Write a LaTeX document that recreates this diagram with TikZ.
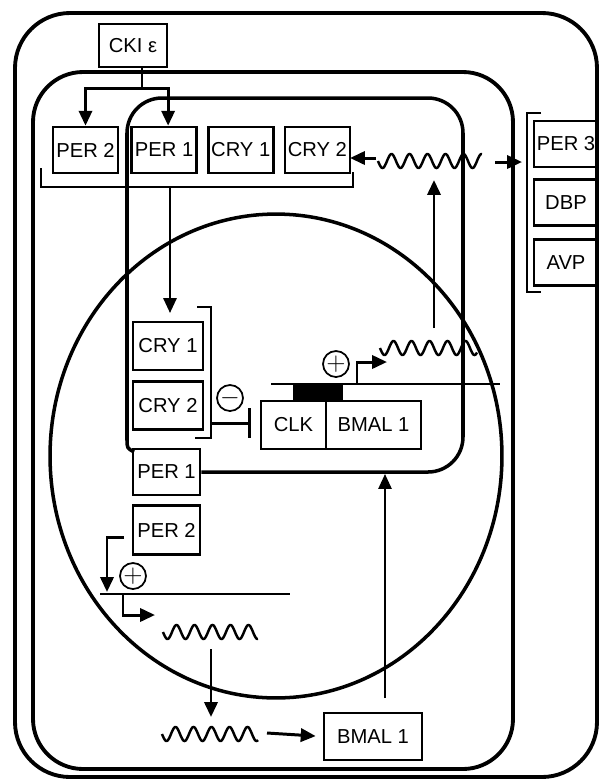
\documentclass[tikz,border=0pt]{standalone}
\usepackage{fontspec}
\setmainfont{Liberation Sans}
\usetikzlibrary{arrows.meta,positioning}

\begin{document}
\begin{tikzpicture}[
  x=0.02cm, y=-0.02cm,
  node distance=0.18cm,
  block/.style={draw, rectangle, line width=1.5pt, minimum width=1.3cm, minimum height=0.92cm, inner sep=0pt, align=center, font=\fontsize{11.5}{13}\selectfont},
  sign/.style={draw, circle, line width=1pt, minimum size=0.52cm, inner sep=0pt, font=\fontsize{14}{14}\selectfont},
  arrow/.style={-{Triangle[width=7.5pt,length=8.5pt]}, line width=1.7pt},
  blocked/.style={-{Bar[width=17pt]}, line width=1.7pt},
  wall/.style={line width=2.2pt, rounded corners=1.1cm},
  loopline/.style={line width=2pt, rounded corners=0.7cm},
  bracket/.style={line width=1.3pt},
  dna/.style={line width=1.1pt},
  pics/mrna/.style={code={\draw[line width=1.4pt] plot[domain=0:#1, samples=120, smooth] (\x,{7*sin(\x*20)});}}
]
\useasboundingbox (0,0) rectangle (600,779);
\draw[wall] (15,13) rectangle (597,777);
\draw[wall, rounded corners=1cm] (33,72) rectangle (513,769);
\draw[line width=2pt] (276,456) ellipse [x radius=4.52cm, y radius=4.84cm];

\node[block, minimum width=1.36cm, minimum height=0.86cm] (cki) at (133,45.5) {CKI ε};
\node[block] (per2) at (85.5,150) {PER 2};
\node[block, right=0.22cm of per2] (per1) {PER 1};
\node[block, right=of per1] (cry1) {CRY 1};
\node[block, right=of cry1] (cry2) {CRY 2};
\node[block, minimum width=1.28cm] (per3) at (566,144) {PER 3};
\node[block, minimum width=1.28cm, below=0.2cm of per3] (dbp) {DBP};
\node[block, minimum width=1.28cm, below=0.22cm of dbp] (avp) {AVP};
\node[block, minimum width=1.4cm, minimum height=0.96cm] (ncry1) at (168,346) {CRY 1};
\node[block, minimum width=1.4cm, minimum height=0.96cm, below=of ncry1] (ncry2) {CRY 2};
\node[block, minimum height=0.96cm] (clk) at (293.5,425) {CLK};
\node[block, minimum width=1.9cm, minimum height=0.96cm, right=-1.5pt of clk] (bmal) {BMAL 1};
\node[block, minimum width=1.34cm] (nper1) at (166.5,472) {PER 1};
\node[block, minimum width=1.34cm, minimum height=0.98cm, below=0.16cm of nper1] (nper2) {PER 2};
\node[block, minimum width=1.96cm, minimum height=0.94cm] (bmalc) at (373,736.5) {BMAL 1};
\node[sign] (inhib) at (230,398) {$-$};
\node[sign] (act) at (336,364) {$+$};
\node[sign] (act2) at (133,576) {$+$};

\coordinate (split) at (142,88);
\coordinate (rowbr) at (170,187);
\coordinate (nucin) at (170,313);
\coordinate (cryout) at (211,423);
\coordinate (tss) at (357,384);
\coordinate (tssend) at (387,362);
\coordinate (mrnaup) at (434,328);
\coordinate (mrnatop) at (434,180);
\coordinate (exportl) at (376,158);
\coordinate (cryin) at (350,158);
\coordinate (exportr) at (495,162);
\coordinate (outin) at (522,162);
\coordinate (p2out) at (124,537);
\coordinate (p2in) at (107,592);
\coordinate (tss2) at (123,594);
\coordinate (tss2end) at (155,615);
\coordinate (mrnadown) at (211,649);
\coordinate (mrnabot) at (211,717);
\coordinate (transl) at (267,733);
\coordinate (bmalup) at (385,698);
\coordinate (loopin) at (385,474);

\draw[arrow] (cki.south -| split) -- (split) -| (per2.north);
\draw[arrow] (split) -| ([xshift=0.08cm]per1.north);
\draw[bracket] (41,168) |- (353,187) -- (353,172);
\draw[arrow, line width=1.4pt] (rowbr) -- (nucin);
\draw[bracket] (197,307) -| (211,438) -- (195,438);
\draw[blocked] (cryout) -- ([xshift=-0.18cm]cryout -| clk.west);
\fill (293,385) rectangle (343,401);
\draw[dna] (271,384) -- (500,384);
\draw[arrow] (tss) |- (tssend);
\pic at (380,348) {mrna=97};
\draw[arrow] (mrnaup) -- (mrnatop);
\pic at (378,161) {mrna=104};
\draw[arrow] (exportl) -- (cryin);
\draw[arrow] (exportr) -- (outin);
\draw[bracket] (541,113) -| (527,292) -- (541,292);
\draw[loopline] (nper1.east) -- (463,472) -- (463,98) -- (127,98) -- (127,440);
\draw[line width=2pt] (127,439) .. controls (127,448) .. (134,452);

\draw[arrow] (p2out) -| (p2in);
\draw[dna] (100,594) -- (290,594);
\draw[arrow] (tss2) |- (tss2end);
\pic at (163,632) {mrna=95};
\draw[arrow] (mrnadown) -- (mrnabot);
\pic at (162,734) {mrna=96};
\draw[arrow, shorten >=0.14cm] (transl) -- (bmalc.west);
\draw[arrow, line width=1.2pt] (bmalup) -- (loopin);
\end{tikzpicture}
\end{document}
